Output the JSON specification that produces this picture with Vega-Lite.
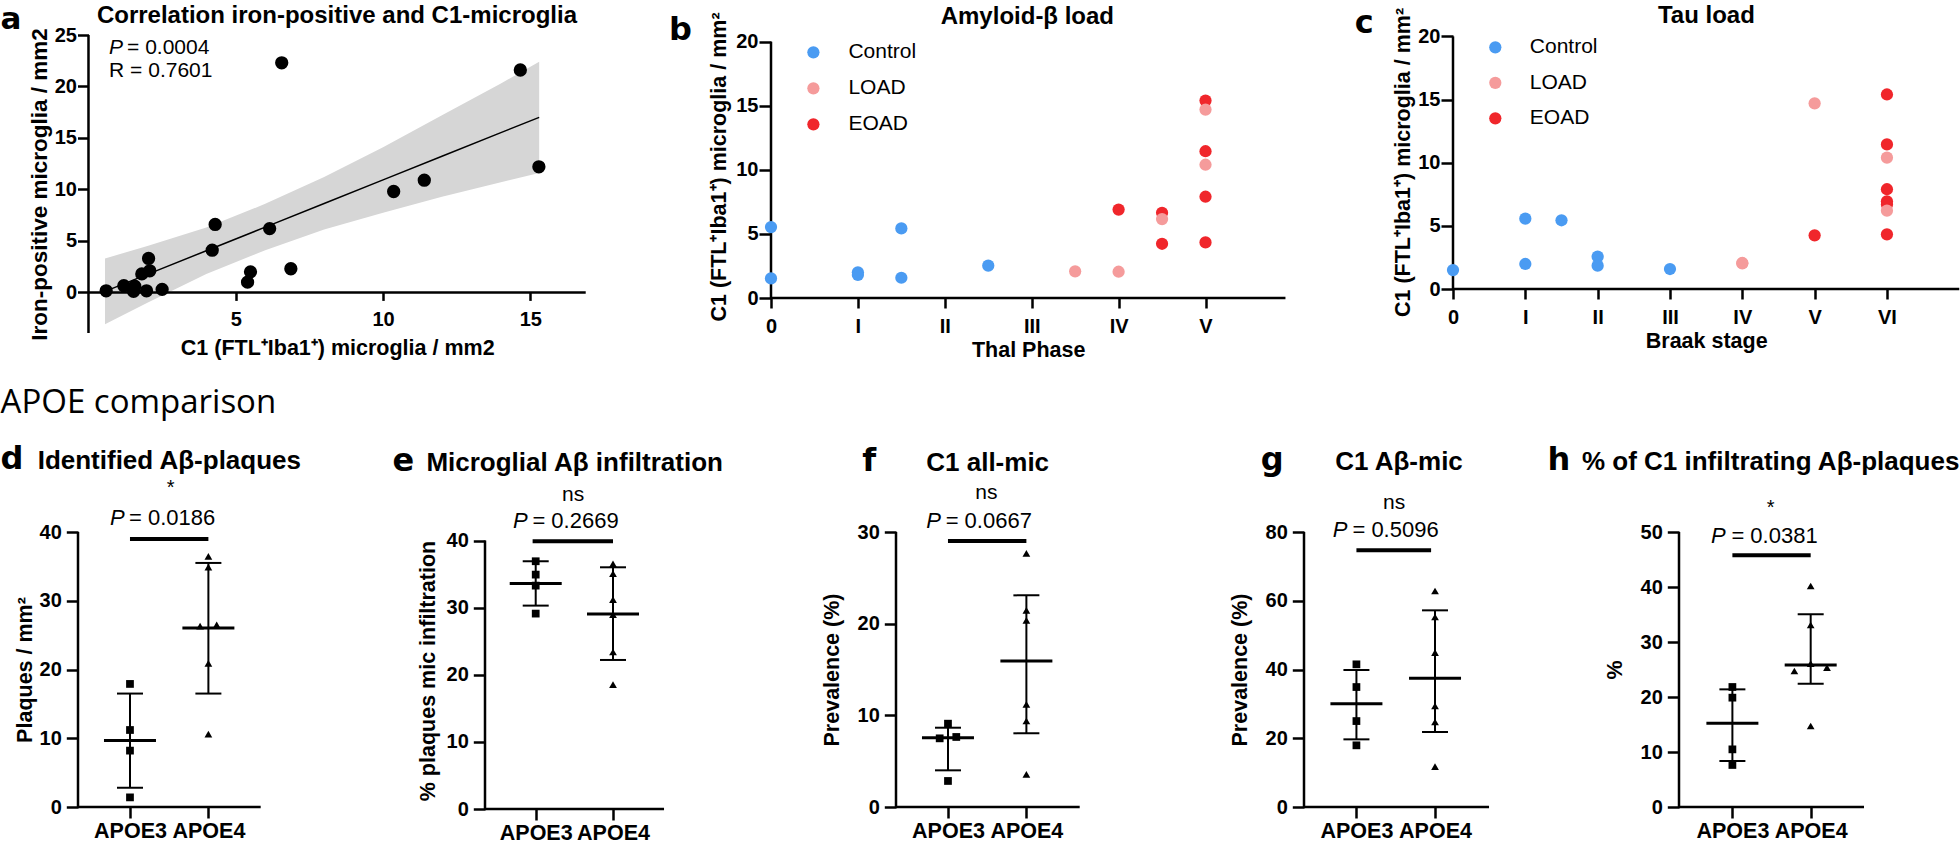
{
  "$schema": "https://vega.github.io/schema/vega-lite/v6.json",
  "background": "white",
  "padding": {"left": 0, "top": 4, "right": 0, "bottom": 0},
  "config": {
    "view": {"stroke": null},
    "font": "Liberation Sans",
    "axis": {"domain": false, "grid": false, "ticks": true, "tickColor": "black", "tickWidth": 2.5, "labelColor": "black", "labelFont": "Liberation Sans", "labelFontWeight": "bold", "labelFontSize": 20, "titleFont": "Liberation Sans", "titleFontWeight": "bold", "titleFontSize": 21.5, "titleColor": "black", "labelOverlap": false, "labelFlush": false},
    "text": {"font": "Liberation Sans", "color": "black"},
    "legend": {"labelFont": "Liberation Sans", "labelColor": "black"}
  },
  "resolve": {"legend": {"color": "independent"}, "scale": {"color": "independent"}},
  "datasets": {
    "one": [{}],
    "bandA": [
      {"x": 0.56, "lo": -3.1, "hi": 3.3, "fit": 0.1},
      {"x": 2, "lo": -1.0, "hi": 4.5, "fit": 1.75},
      {"x": 4, "lo": 1.8, "hi": 6.3, "fit": 4.05},
      {"x": 6, "lo": 4.1, "hi": 8.6, "fit": 6.34},
      {"x": 8, "lo": 6.1, "hi": 11.2, "fit": 8.64},
      {"x": 10, "lo": 7.75, "hi": 14.1, "fit": 10.93},
      {"x": 12, "lo": 9.3, "hi": 17.2, "fit": 13.22},
      {"x": 14, "lo": 10.7, "hi": 20.3, "fit": 15.52},
      {"x": 15.3, "lo": 11.6, "hi": 22.4, "fit": 17.0}
    ],
    "ptsA": [
      {"x": 0.6, "y": 0.16}, {"x": 1.2, "y": 0.65}, {"x": 1.53, "y": 0.1}, {"x": 1.57, "y": 0.6},
      {"x": 1.81, "y": 1.8}, {"x": 1.97, "y": 0.16}, {"x": 2.04, "y": 3.3}, {"x": 2.08, "y": 2.1},
      {"x": 2.5, "y": 0.3}, {"x": 4.2, "y": 4.1}, {"x": 4.3, "y": 6.6}, {"x": 5.4, "y": 1.0},
      {"x": 5.5, "y": 2.0}, {"x": 6.15, "y": 6.2}, {"x": 6.56, "y": 22.3}, {"x": 6.87, "y": 2.3},
      {"x": 10.36, "y": 9.8}, {"x": 11.4, "y": 10.9}, {"x": 14.66, "y": 21.6}, {"x": 15.29, "y": 12.2}
    ],
    "ptsB": [
      {"x": 0, "y": 5.53, "group": "Control"}, {"x": 0, "y": 1.53, "group": "Control"},
      {"x": 1, "y": 2.0, "group": "Control"}, {"x": 1, "y": 1.8, "group": "Control"},
      {"x": 1.5, "y": 5.43, "group": "Control"}, {"x": 1.5, "y": 1.58, "group": "Control"},
      {"x": 2.5, "y": 2.52, "group": "Control"},
      {"x": 4, "y": 6.9, "group": "EOAD"}, {"x": 4.5, "y": 6.65, "group": "EOAD"},
      {"x": 4.5, "y": 4.23, "group": "EOAD"}, {"x": 5, "y": 15.4, "group": "EOAD"},
      {"x": 5, "y": 11.45, "group": "EOAD"}, {"x": 5, "y": 7.9, "group": "EOAD"},
      {"x": 5, "y": 4.34, "group": "EOAD"},
      {"x": 3.5, "y": 2.08, "group": "LOAD"}, {"x": 4, "y": 2.05, "group": "LOAD"},
      {"x": 4.5, "y": 6.16, "group": "LOAD"}, {"x": 5, "y": 14.7, "group": "LOAD"},
      {"x": 5, "y": 10.4, "group": "LOAD"}
    ],
    "ptsC": [
      {"x": 0, "y": 1.5, "group": "Control"}, {"x": 1, "y": 5.57, "group": "Control"},
      {"x": 1, "y": 1.98, "group": "Control"}, {"x": 1.5, "y": 5.44, "group": "Control"},
      {"x": 2, "y": 2.56, "group": "Control"}, {"x": 2, "y": 1.85, "group": "Control"},
      {"x": 3, "y": 1.58, "group": "Control"},
      {"x": 5, "y": 4.25, "group": "EOAD"}, {"x": 6, "y": 15.4, "group": "EOAD"},
      {"x": 6, "y": 11.45, "group": "EOAD"}, {"x": 6, "y": 7.9, "group": "EOAD"},
      {"x": 6, "y": 6.94, "group": "EOAD"}, {"x": 6, "y": 6.7, "group": "EOAD"},
      {"x": 6, "y": 4.33, "group": "EOAD"},
      {"x": 4, "y": 2.06, "group": "LOAD"}, {"x": 4, "y": 2.03, "group": "LOAD"},
      {"x": 5, "y": 14.7, "group": "LOAD"}, {"x": 6, "y": 10.4, "group": "LOAD"},
      {"x": 6, "y": 6.2, "group": "LOAD"}
    ],
    "ptsD": [
      {"g": 1, "v": 17.9, "j": "c"}, {"g": 1, "v": 11.2, "j": "c"}, {"g": 1, "v": 8.2, "j": "c"}, {"g": 1, "v": 1.4, "j": "c"},
      {"g": 2, "v": 36.45, "j": "c"}, {"g": 2, "v": 34.9, "j": "c"}, {"g": 2, "v": 26.3, "j": "l"}, {"g": 2, "v": 26.5, "j": "r"},
      {"g": 2, "v": 20.9, "j": "c"}, {"g": 2, "v": 10.6, "j": "c"}
    ],
    "sumD": [{"g": 1, "c": 9.67, "lo": 2.8, "hi": 16.5}, {"g": 2, "c": 26.05, "lo": 16.5, "hi": 35.5}],
    "ptsE": [
      {"g": 1, "v": 36.92, "j": "c"}, {"g": 1, "v": 34.93, "j": "c"}, {"g": 1, "v": 33.29, "j": "c"}, {"g": 1, "v": 29.12, "j": "c"},
      {"g": 2, "v": 36.52, "j": "c"}, {"g": 2, "v": 35.08, "j": "c"}, {"g": 2, "v": 31.2, "j": "c"}, {"g": 2, "v": 28.97, "j": "c"},
      {"g": 2, "v": 23.4, "j": "c"}, {"g": 2, "v": 18.53, "j": "c"}
    ],
    "sumE": [{"g": 1, "c": 33.59, "lo": 30.31, "hi": 36.92}, {"g": 2, "c": 29.07, "lo": 22.21, "hi": 36.02}],
    "ptsF": [
      {"g": 1, "v": 9.09, "j": "c"}, {"g": 1, "v": 7.49, "j": "l"}, {"g": 1, "v": 7.64, "j": "r"}, {"g": 1, "v": 2.84, "j": "c"},
      {"g": 2, "v": 27.67, "j": "c"}, {"g": 2, "v": 21.45, "j": "c"}, {"g": 2, "v": 20.36, "j": "c"}, {"g": 2, "v": 11.2, "j": "c"},
      {"g": 2, "v": 9.38, "j": "c"}, {"g": 2, "v": 3.56, "j": "c"}
    ],
    "sumF": [{"g": 1, "c": 7.56, "lo": 4.0, "hi": 8.65}, {"g": 2, "c": 15.93, "lo": 8.04, "hi": 23.09}],
    "ptsG": [
      {"g": 1, "v": 41.5, "j": "c"}, {"g": 1, "v": 34.9, "j": "c"}, {"g": 1, "v": 25.0, "j": "c"}, {"g": 1, "v": 17.94, "j": "c"},
      {"g": 2, "v": 62.84, "j": "c"}, {"g": 2, "v": 55.27, "j": "c"}, {"g": 2, "v": 44.9, "j": "c"}, {"g": 2, "v": 29.38, "j": "c"},
      {"g": 2, "v": 24.73, "j": "c"}, {"g": 2, "v": 11.73, "j": "c"}
    ],
    "sumG": [{"g": 1, "c": 30.06, "lo": 19.68, "hi": 39.85}, {"g": 2, "c": 37.43, "lo": 21.82, "hi": 57.21}],
    "ptsH": [
      {"g": 1, "v": 21.82, "j": "c"}, {"g": 1, "v": 19.88, "j": "c"}, {"g": 1, "v": 10.48, "j": "c"}, {"g": 1, "v": 7.64, "j": "c"},
      {"g": 2, "v": 40.18, "j": "c"}, {"g": 2, "v": 33.09, "j": "c"}, {"g": 2, "v": 26.06, "j": "c"}, {"g": 2, "v": 24.73, "j": "l"},
      {"g": 2, "v": 25.33, "j": "r"}, {"g": 2, "v": 14.73, "j": "c"}
    ],
    "sumH": [{"g": 1, "c": 15.21, "lo": 8.36, "hi": 21.39}, {"g": 2, "c": 25.82, "lo": 22.42, "hi": 35.03}]
  },
  "spacing": 26,
  "vconcat": [
    {
      "resolve": {"legend": {"color": "independent"}, "scale": {"color": "independent"}},
      "hconcat": [
        {
          "width": 693, "height": 298,
          "layer": [
            {"data": {"name": "bandA"}, "mark": {"type": "area", "color": "#d6d6d6", "opacity": 1},
             "encoding": {
               "x": {"field": "x", "type": "quantitative", "scale": {"domain": [-0.356, 23.17], "nice": false, "zero": false},
                     "axis": {"values": [5, 10, 15], "offset": -40.6, "tickSize": 8, "labelPadding": 9, "title": "C1 (FTL⁺Iba1⁺) microglia / mm2", "titleX": 259.2, "titlePadding": 8}},
               "y": {"field": "lo", "type": "quantitative", "scale": {"domain": [-3.94, 25], "nice": false, "zero": false},
                     "axis": {"values": [0, 5, 10, 15, 20, 25], "offset": -10.5, "tickSize": 11, "labelPadding": 1, "title": "Iron-positive microglia / mm2", "titlePadding": 3, "titleFontSize": 22.5}},
               "y2": {"field": "hi"}
             }},
            {"data": {"name": "bandA"}, "mark": {"type": "line", "color": "black", "strokeWidth": 1.5},
             "encoding": {"x": {"field": "x", "type": "quantitative"}, "y": {"field": "fit", "type": "quantitative"}}},
            {"data": {"name": "one"}, "mark": {"type": "rule", "color": "black", "strokeWidth": 2.5},
             "encoding": {"x": {"datum": 0}, "x2": {"datum": 16.88}, "y": {"datum": 0}}},
            {"data": {"name": "one"}, "mark": {"type": "rule", "color": "black", "strokeWidth": 2.5},
             "encoding": {"x": {"datum": 0}, "y": {"datum": -3.94}, "y2": {"datum": 25}}},
            {"data": {"name": "ptsA"}, "mark": {"type": "circle", "color": "black", "size": 177, "opacity": 1},
             "encoding": {"x": {"field": "x", "type": "quantitative"}, "y": {"field": "y", "type": "quantitative"}}},
            {"data": {"name": "one"}, "mark": {"type": "text", "text": "P", "fontStyle": "italic", "fontSize": 21, "align": "left", "baseline": "alphabetic"},
             "encoding": {"x": {"datum": 0.70}, "y": {"datum": 23.2}}},
            {"data": {"name": "one"}, "mark": {"type": "text", "text": "= 0.0004", "fontSize": 21, "align": "left", "baseline": "alphabetic"},
             "encoding": {"x": {"datum": 1.31}, "y": {"datum": 23.2}}},
            {"data": {"name": "one"}, "mark": {"type": "text", "text": "R = 0.7601", "fontSize": 21, "align": "left", "baseline": "alphabetic"},
             "encoding": {"x": {"datum": 0.70}, "y": {"datum": 20.95}}},
            {"data": {"name": "one"}, "mark": {"type": "text", "text": "Correlation iron-positive and C1-microglia", "fontSize": 24, "fontWeight": "bold", "align": "center", "baseline": "alphabetic"},
             "encoding": {"x": {"datum": 8.435}, "y": {"datum": 26.16}}},
            {"data": {"name": "one"}, "mark": {"type": "text", "text": "a", "font": "DejaVu Sans", "fontSize": 31, "fontWeight": "bold", "align": "left", "baseline": "alphabetic"},
             "encoding": {"x": {"datum": -2.987}, "y": {"datum": 25.56}}}
          ]
        },
        {
          "width": 682, "height": 263,
          "layer": [
            {"data": {"name": "one"}, "mark": {"type": "rule", "color": "black", "strokeWidth": 2.5},
             "encoding": {"x": {"datum": 0}, "x2": {"datum": 5.92}, "y": {"datum": 0}}},
            {"data": {"name": "one"}, "mark": {"type": "rule", "color": "black", "strokeWidth": 2.5},
             "encoding": {"x": {"datum": 0}, "y": {"datum": 0}, "y2": {"datum": 20}}},
            {"data": {"name": "ptsB"}, "mark": {"type": "circle", "size": 150, "opacity": 1},
             "encoding": {
               "x": {"field": "x", "type": "quantitative", "scale": {"domain": [0, 7.848], "nice": false, "zero": false},
                     "axis": {"values": [0, 1, 2, 3, 4, 5], "labelExpr": "['0','I','II','III','IV','V'][datum.value]", "tickSize": 10, "labelPadding": 8.5, "title": "Thal Phase", "titleX": 257.2, "titlePadding": 3}},
               "y": {"field": "y", "type": "quantitative", "scale": {"domain": [0, 20.52], "nice": false, "zero": false},
                     "axis": {"values": [0, 5, 10, 15, 20], "tickSize": 12, "labelPadding": 1, "title": "C1 (FTL⁺Iba1⁺) microglia / mm²", "titlePadding": 5}},
               "color": {"field": "group", "type": "nominal", "scale": {"domain": ["Control", "LOAD", "EOAD"], "range": ["#4A9BF2", "#F59B9B", "#F0262B"]},
                         "legend": {"orient": "none", "legendX": 31.9, "legendY": 6.8, "title": null, "labelFontSize": 21, "symbolType": "circle", "symbolSize": 150, "symbolStrokeWidth": 0, "symbolOpacity": 1, "rowPadding": 14, "labelOffset": 24.5, "padding": 0}}
             }},
            {"data": {"name": "one"}, "mark": {"type": "text", "text": "Amyloid-β load", "fontSize": 24, "fontWeight": "bold", "align": "center", "baseline": "alphabetic"},
             "encoding": {"x": {"datum": 2.95}, "y": {"datum": 21.39}}},
            {"data": {"name": "one"}, "mark": {"type": "text", "text": "b", "font": "DejaVu Sans", "fontSize": 32, "fontWeight": "bold", "align": "left", "baseline": "alphabetic"},
             "encoding": {"x": {"datum": -1.174}, "y": {"datum": 20.13}}}
          ]
        },
        {
          "width": 507, "height": 254,
          "layer": [
            {"data": {"name": "one"}, "mark": {"type": "rule", "color": "black", "strokeWidth": 2.5},
             "encoding": {"x": {"datum": 0}, "x2": {"datum": 7.0}, "y": {"datum": 0}}},
            {"data": {"name": "one"}, "mark": {"type": "rule", "color": "black", "strokeWidth": 2.5},
             "encoding": {"x": {"datum": 0}, "y": {"datum": 0}, "y2": {"datum": 20}}},
            {"data": {"name": "ptsC"}, "mark": {"type": "circle", "size": 150, "opacity": 1},
             "encoding": {
               "x": {"field": "x", "type": "quantitative", "scale": {"domain": [0, 7.01], "nice": false, "zero": false},
                     "axis": {"values": [0, 1, 2, 3, 4, 5, 6], "labelExpr": "['0','I','II','III','IV','V','VI'][datum.value]", "tickSize": 10, "labelPadding": 8.5, "title": "Braak stage", "titleX": 253.2, "titlePadding": 3}},
               "y": {"field": "y", "type": "quantitative", "scale": {"domain": [0, 20.11], "nice": false, "zero": false},
                     "axis": {"values": [0, 5, 10, 15, 20], "tickSize": 12, "labelPadding": 1, "title": "C1 (FTL⁺Iba1⁺) microglia / mm²", "titlePadding": 3}},
               "color": {"field": "group", "type": "nominal", "scale": {"domain": ["Control", "LOAD", "EOAD"], "range": ["#4A9BF2", "#F59B9B", "#F0262B"]},
                         "legend": {"orient": "none", "legendX": 31.8, "legendY": 1.8, "title": null, "labelFontSize": 21, "symbolType": "circle", "symbolSize": 150, "symbolStrokeWidth": 0, "symbolOpacity": 1, "rowPadding": 13.5, "labelOffset": 24, "padding": 0}}
             }},
            {"data": {"name": "one"}, "mark": {"type": "text", "text": "Tau load", "fontSize": 24, "fontWeight": "bold", "align": "center", "baseline": "alphabetic"},
             "encoding": {"x": {"datum": 3.503}, "y": {"datum": 21.05}}},
            {"data": {"name": "one"}, "mark": {"type": "text", "text": "c", "font": "DejaVu Sans", "fontSize": 32, "fontWeight": "bold", "align": "left", "baseline": "alphabetic"},
             "encoding": {"x": {"datum": -1.357}, "y": {"datum": 20.26}}}
          ]
        }
      ],
      "spacing": 0, "bounds": "flush", "align": "none"
    },
    {
      "hconcat": [
        {
          "width": 407, "height": 275,
          "layer": [
            {"data": {"name": "one"}, "mark": {"type": "rule", "color": "black", "strokeWidth": 2.5}, "encoding": {"x": {"datum": 0.337}, "x2": {"datum": 2.667}, "y": {"datum": 0}}},
            {"data": {"name": "one"}, "mark": {"type": "rule", "color": "black", "strokeWidth": 2.5}, "encoding": {"x": {"datum": 0.337}, "y": {"datum": 0}, "y2": {"datum": 40}}},
            {"data": {"name": "ptsD"}, "transform": [{"filter": "datum.j == 'c'"}], "mark": {"type": "point", "filled": true, "color": "black", "opacity": 1, "size": 60},
             "encoding": {
               "x": {"field": "g", "type": "quantitative", "scale": {"domain": [0.337, 5.528], "nice": false, "zero": false},
                     "axis": {"values": [1, 2], "labelExpr": "datum.value == 1 ? 'APOE3' : 'APOE4'", "tickSize": 11, "labelPadding": 2, "labelFontSize": 21.5, "title": null}},
               "y": {"field": "v", "type": "quantitative", "scale": {"domain": [0, 40], "nice": false, "zero": false},
                     "axis": {"values": [0, 10, 20, 30, 40], "tickSize": 11.7, "labelPadding": 5, "title": "Plaques / mm²", "titlePadding": 3}},
               "shape": {"field": "g", "type": "nominal", "scale": {"domain": [1, 2], "range": ["square", "triangle-up"]}, "legend": null}
             }},
            {"data": {"name": "ptsD"}, "transform": [{"filter": "datum.j == 'l'"}], "mark": {"type": "point", "filled": true, "color": "black", "opacity": 1, "size": 60, "xOffset": -8.3},
             "encoding": {"x": {"field": "g", "type": "quantitative"}, "y": {"field": "v", "type": "quantitative"}, "shape": {"field": "g", "type": "nominal", "legend": null}}},
            {"data": {"name": "ptsD"}, "transform": [{"filter": "datum.j == 'r'"}], "mark": {"type": "point", "filled": true, "color": "black", "opacity": 1, "size": 60, "xOffset": 8.3},
             "encoding": {"x": {"field": "g", "type": "quantitative"}, "y": {"field": "v", "type": "quantitative"}, "shape": {"field": "g", "type": "nominal", "legend": null}}},
            {"data": {"name": "sumD"}, "mark": {"type": "rule", "color": "black", "strokeWidth": 2}, "encoding": {"x": {"field": "g", "type": "quantitative"}, "y": {"field": "lo", "type": "quantitative"}, "y2": {"field": "hi"}}},
            {"data": {"name": "sumD"}, "mark": {"type": "tick", "orient": "horizontal", "size": 52, "thickness": 3, "color": "black", "opacity": 1}, "encoding": {"x": {"field": "g", "type": "quantitative"}, "y": {"field": "c", "type": "quantitative"}}},
            {"data": {"name": "sumD"}, "mark": {"type": "tick", "orient": "horizontal", "size": 26, "thickness": 2, "color": "black", "opacity": 1}, "encoding": {"x": {"field": "g", "type": "quantitative"}, "y": {"field": "lo", "type": "quantitative"}}},
            {"data": {"name": "sumD"}, "mark": {"type": "tick", "orient": "horizontal", "size": 26, "thickness": 2, "color": "black", "opacity": 1}, "encoding": {"x": {"field": "g", "type": "quantitative"}, "y": {"field": "hi", "type": "quantitative"}}},
            {"data": {"name": "one"}, "mark": {"type": "rule", "color": "black", "strokeWidth": 4}, "encoding": {"x": {"datum": 1}, "x2": {"datum": 2}, "y": {"datum": 39.0}}},
            {"data": {"name": "one"}, "mark": {"type": "text", "text": "*", "fontSize": 20, "align": "center", "baseline": "alphabetic"}, "encoding": {"x": {"datum": 1.519}, "y": {"datum": 45.6}}},
            {"data": {"name": "one"}, "mark": {"type": "text", "text": "P", "fontStyle": "italic", "fontSize": 22, "align": "right", "baseline": "alphabetic"}, "encoding": {"x": {"datum": 0.932}, "y": {"datum": 40.97}}},
            {"data": {"name": "one"}, "mark": {"type": "text", "text": "= 0.0186", "fontSize": 22, "align": "left", "baseline": "alphabetic"}, "encoding": {"x": {"datum": 0.987}, "y": {"datum": 40.97}}},
            {"data": {"name": "one"}, "mark": {"type": "text", "text": "Identified Aβ-plaques", "fontSize": 26, "fontWeight": "bold", "align": "center", "baseline": "alphabetic"}, "encoding": {"x": {"datum": 1.502}, "y": {"datum": 49.2}}},
            {"data": {"name": "one"}, "mark": {"type": "text", "text": "d", "font": "DejaVu Sans", "fontSize": 32, "fontWeight": "bold", "align": "left", "baseline": "alphabetic"}, "encoding": {"x": {"datum": -0.651}, "y": {"datum": 49.2}}},
            {"data": {"name": "one"}, "mark": {"type": "text", "text": "APOE comparison", "font": "Open Sans", "fontSize": 33, "align": "left", "baseline": "alphabetic"}, "encoding": {"x": {"datum": -0.651}, "y": {"datum": 57.25}}}
          ]
        },
        {
          "width": 411, "height": 277,
          "layer": [
            {"data": {"name": "one"}, "mark": {"type": "rule", "color": "black", "strokeWidth": 2.5}, "encoding": {"x": {"datum": 0.344}, "x2": {"datum": 2.66}, "y": {"datum": 0}}},
            {"data": {"name": "one"}, "mark": {"type": "rule", "color": "black", "strokeWidth": 2.5}, "encoding": {"x": {"datum": 0.344}, "y": {"datum": 0}, "y2": {"datum": 40}}},
            {"data": {"name": "ptsE"}, "mark": {"type": "point", "filled": true, "color": "black", "opacity": 1, "size": 60},
             "encoding": {
               "x": {"field": "g", "type": "quantitative", "scale": {"domain": [0.344, 5.661], "nice": false, "zero": false},
                     "axis": {"values": [1, 2], "labelExpr": "datum.value == 1 ? 'APOE3' : 'APOE4'", "tickSize": 11, "labelPadding": 2, "labelFontSize": 21.5, "title": null}},
               "y": {"field": "v", "type": "quantitative", "scale": {"domain": [0, 41.28], "nice": false, "zero": false},
                     "axis": {"values": [0, 10, 20, 30, 40], "tickSize": 11.7, "labelPadding": 5, "title": "% plaques mic infiltration", "titlePadding": 6.5}},
               "shape": {"field": "g", "type": "nominal", "scale": {"domain": [1, 2], "range": ["square", "triangle-up"]}, "legend": null}
             }},
            {"data": {"name": "sumE"}, "mark": {"type": "rule", "color": "black", "strokeWidth": 2}, "encoding": {"x": {"field": "g", "type": "quantitative"}, "y": {"field": "lo", "type": "quantitative"}, "y2": {"field": "hi"}}},
            {"data": {"name": "sumE"}, "mark": {"type": "tick", "orient": "horizontal", "size": 52, "thickness": 3, "color": "black", "opacity": 1}, "encoding": {"x": {"field": "g", "type": "quantitative"}, "y": {"field": "c", "type": "quantitative"}}},
            {"data": {"name": "sumE"}, "mark": {"type": "tick", "orient": "horizontal", "size": 26, "thickness": 2, "color": "black", "opacity": 1}, "encoding": {"x": {"field": "g", "type": "quantitative"}, "y": {"field": "lo", "type": "quantitative"}}},
            {"data": {"name": "sumE"}, "mark": {"type": "tick", "orient": "horizontal", "size": 26, "thickness": 2, "color": "black", "opacity": 1}, "encoding": {"x": {"field": "g", "type": "quantitative"}, "y": {"field": "hi", "type": "quantitative"}}},
            {"data": {"name": "one"}, "mark": {"type": "rule", "color": "black", "strokeWidth": 4}, "encoding": {"x": {"datum": 0.96}, "x2": {"datum": 2}, "y": {"datum": 39.9}}},
            {"data": {"name": "one"}, "mark": {"type": "text", "text": "ns", "fontSize": 21, "align": "center", "baseline": "alphabetic"}, "encoding": {"x": {"datum": 1.483}, "y": {"datum": 45.96}}},
            {"data": {"name": "one"}, "mark": {"type": "text", "text": "P", "fontStyle": "italic", "fontSize": 22, "align": "right", "baseline": "alphabetic"}, "encoding": {"x": {"datum": 0.897}, "y": {"datum": 41.9}}},
            {"data": {"name": "one"}, "mark": {"type": "text", "text": "= 0.2669", "fontSize": 22, "align": "left", "baseline": "alphabetic"}, "encoding": {"x": {"datum": 0.957}, "y": {"datum": 41.9}}},
            {"data": {"name": "one"}, "mark": {"type": "text", "text": "Microglial Aβ infiltration", "fontSize": 26, "fontWeight": "bold", "align": "center", "baseline": "alphabetic"}, "encoding": {"x": {"datum": 1.504}, "y": {"datum": 50.4}}},
            {"data": {"name": "one"}, "mark": {"type": "text", "text": "e", "font": "DejaVu Sans", "fontSize": 32, "fontWeight": "bold", "align": "left", "baseline": "alphabetic"}, "encoding": {"x": {"datum": -0.853}, "y": {"datum": 50.4}}}
          ]
        },
        {
          "width": 408, "height": 275,
          "layer": [
            {"data": {"name": "one"}, "mark": {"type": "rule", "color": "black", "strokeWidth": 2.5}, "encoding": {"x": {"datum": 0.337}, "x2": {"datum": 2.68}, "y": {"datum": 0}}},
            {"data": {"name": "one"}, "mark": {"type": "rule", "color": "black", "strokeWidth": 2.5}, "encoding": {"x": {"datum": 0.337}, "y": {"datum": 0}, "y2": {"datum": 30}}},
            {"data": {"name": "ptsF"}, "transform": [{"filter": "datum.j == 'c'"}], "mark": {"type": "point", "filled": true, "color": "black", "opacity": 1, "size": 60},
             "encoding": {
               "x": {"field": "g", "type": "quantitative", "scale": {"domain": [0.337, 5.541], "nice": false, "zero": false},
                     "axis": {"values": [1, 2], "labelExpr": "datum.value == 1 ? 'APOE3' : 'APOE4'", "tickSize": 11, "labelPadding": 2, "labelFontSize": 21.5, "title": null}},
               "y": {"field": "v", "type": "quantitative", "scale": {"domain": [0, 30], "nice": false, "zero": false},
                     "axis": {"values": [0, 10, 20, 30], "tickSize": 11.7, "labelPadding": 5, "title": "Prevalence (%)", "titlePadding": 14}},
               "shape": {"field": "g", "type": "nominal", "scale": {"domain": [1, 2], "range": ["square", "triangle-up"]}, "legend": null}
             }},
            {"data": {"name": "ptsF"}, "transform": [{"filter": "datum.j == 'l'"}], "mark": {"type": "point", "filled": true, "color": "black", "opacity": 1, "size": 60, "xOffset": -8.3},
             "encoding": {"x": {"field": "g", "type": "quantitative"}, "y": {"field": "v", "type": "quantitative"}, "shape": {"field": "g", "type": "nominal", "legend": null}}},
            {"data": {"name": "ptsF"}, "transform": [{"filter": "datum.j == 'r'"}], "mark": {"type": "point", "filled": true, "color": "black", "opacity": 1, "size": 60, "xOffset": 8.3},
             "encoding": {"x": {"field": "g", "type": "quantitative"}, "y": {"field": "v", "type": "quantitative"}, "shape": {"field": "g", "type": "nominal", "legend": null}}},
            {"data": {"name": "sumF"}, "mark": {"type": "rule", "color": "black", "strokeWidth": 2}, "encoding": {"x": {"field": "g", "type": "quantitative"}, "y": {"field": "lo", "type": "quantitative"}, "y2": {"field": "hi"}}},
            {"data": {"name": "sumF"}, "mark": {"type": "tick", "orient": "horizontal", "size": 52, "thickness": 3, "color": "black", "opacity": 1}, "encoding": {"x": {"field": "g", "type": "quantitative"}, "y": {"field": "c", "type": "quantitative"}}},
            {"data": {"name": "sumF"}, "mark": {"type": "tick", "orient": "horizontal", "size": 26, "thickness": 2, "color": "black", "opacity": 1}, "encoding": {"x": {"field": "g", "type": "quantitative"}, "y": {"field": "lo", "type": "quantitative"}}},
            {"data": {"name": "sumF"}, "mark": {"type": "tick", "orient": "horizontal", "size": 26, "thickness": 2, "color": "black", "opacity": 1}, "encoding": {"x": {"field": "g", "type": "quantitative"}, "y": {"field": "hi", "type": "quantitative"}}},
            {"data": {"name": "one"}, "mark": {"type": "rule", "color": "black", "strokeWidth": 4}, "encoding": {"x": {"datum": 1}, "x2": {"datum": 2}, "y": {"datum": 29.02}}},
            {"data": {"name": "one"}, "mark": {"type": "text", "text": "ns", "fontSize": 21, "align": "center", "baseline": "alphabetic"}, "encoding": {"x": {"datum": 1.489}, "y": {"datum": 33.56}}},
            {"data": {"name": "one"}, "mark": {"type": "text", "text": "P", "fontStyle": "italic", "fontSize": 22, "align": "right", "baseline": "alphabetic"}, "encoding": {"x": {"datum": 0.91}, "y": {"datum": 30.47}}},
            {"data": {"name": "one"}, "mark": {"type": "text", "text": "= 0.0667", "fontSize": 22, "align": "left", "baseline": "alphabetic"}, "encoding": {"x": {"datum": 0.97}, "y": {"datum": 30.47}}},
            {"data": {"name": "one"}, "mark": {"type": "text", "text": "C1 all-mic", "fontSize": 26, "fontWeight": "bold", "align": "center", "baseline": "alphabetic"}, "encoding": {"x": {"datum": 1.506}, "y": {"datum": 36.65}}},
            {"data": {"name": "one"}, "mark": {"type": "text", "text": "f", "font": "DejaVu Sans", "fontSize": 32, "fontWeight": "bold", "align": "left", "baseline": "alphabetic"}, "encoding": {"x": {"datum": -0.094}, "y": {"datum": 36.65}}}
          ]
        },
        {
          "width": 375, "height": 275,
          "layer": [
            {"data": {"name": "one"}, "mark": {"type": "rule", "color": "black", "strokeWidth": 2.5}, "encoding": {"x": {"datum": 0.333}, "x2": {"datum": 2.687}, "y": {"datum": 0}}},
            {"data": {"name": "one"}, "mark": {"type": "rule", "color": "black", "strokeWidth": 2.5}, "encoding": {"x": {"datum": 0.333}, "y": {"datum": 0}, "y2": {"datum": 80}}},
            {"data": {"name": "ptsG"}, "mark": {"type": "point", "filled": true, "color": "black", "opacity": 1, "size": 60},
             "encoding": {
               "x": {"field": "g", "type": "quantitative", "scale": {"domain": [0.333, 5.104], "nice": false, "zero": false},
                     "axis": {"values": [1, 2], "labelExpr": "datum.value == 1 ? 'APOE3' : 'APOE4'", "tickSize": 11, "labelPadding": 2, "labelFontSize": 21.5, "title": null}},
               "y": {"field": "v", "type": "quantitative", "scale": {"domain": [0, 80], "nice": false, "zero": false},
                     "axis": {"values": [0, 20, 40, 60, 80], "tickSize": 11.7, "labelPadding": 5, "title": "Prevalence (%)", "titlePadding": 13.5}},
               "shape": {"field": "g", "type": "nominal", "scale": {"domain": [1, 2], "range": ["square", "triangle-up"]}, "legend": null}
             }},
            {"data": {"name": "sumG"}, "mark": {"type": "rule", "color": "black", "strokeWidth": 2}, "encoding": {"x": {"field": "g", "type": "quantitative"}, "y": {"field": "lo", "type": "quantitative"}, "y2": {"field": "hi"}}},
            {"data": {"name": "sumG"}, "mark": {"type": "tick", "orient": "horizontal", "size": 52, "thickness": 3, "color": "black", "opacity": 1}, "encoding": {"x": {"field": "g", "type": "quantitative"}, "y": {"field": "c", "type": "quantitative"}}},
            {"data": {"name": "sumG"}, "mark": {"type": "tick", "orient": "horizontal", "size": 26, "thickness": 2, "color": "black", "opacity": 1}, "encoding": {"x": {"field": "g", "type": "quantitative"}, "y": {"field": "lo", "type": "quantitative"}}},
            {"data": {"name": "sumG"}, "mark": {"type": "tick", "orient": "horizontal", "size": 26, "thickness": 2, "color": "black", "opacity": 1}, "encoding": {"x": {"field": "g", "type": "quantitative"}, "y": {"field": "hi", "type": "quantitative"}}},
            {"data": {"name": "one"}, "mark": {"type": "rule", "color": "black", "strokeWidth": 4}, "encoding": {"x": {"datum": 1}, "x2": {"datum": 1.95}, "y": {"datum": 74.67}}},
            {"data": {"name": "one"}, "mark": {"type": "text", "text": "ns", "fontSize": 21, "align": "center", "baseline": "alphabetic"}, "encoding": {"x": {"datum": 1.479}, "y": {"datum": 86.6}}},
            {"data": {"name": "one"}, "mark": {"type": "text", "text": "P", "fontStyle": "italic", "fontSize": 22, "align": "right", "baseline": "alphabetic"}, "encoding": {"x": {"datum": 0.886}, "y": {"datum": 78.55}}},
            {"data": {"name": "one"}, "mark": {"type": "text", "text": "= 0.5096", "fontSize": 22, "align": "left", "baseline": "alphabetic"}, "encoding": {"x": {"datum": 0.949}, "y": {"datum": 78.55}}},
            {"data": {"name": "one"}, "mark": {"type": "text", "text": "C1 Aβ-mic", "fontSize": 26, "fontWeight": "bold", "align": "center", "baseline": "alphabetic"}, "encoding": {"x": {"datum": 1.542}, "y": {"datum": 97.96}}},
            {"data": {"name": "one"}, "mark": {"type": "text", "text": "g", "font": "DejaVu Sans", "fontSize": 32, "fontWeight": "bold", "align": "left", "baseline": "alphabetic"}, "encoding": {"x": {"datum": -0.216}, "y": {"datum": 97.96}}}
          ]
        },
        {
          "width": 185, "height": 275,
          "layer": [
            {"data": {"name": "one"}, "mark": {"type": "rule", "color": "black", "strokeWidth": 2.5}, "encoding": {"x": {"datum": 0.318}, "x2": {"datum": 2.681}, "y": {"datum": 0}}},
            {"data": {"name": "one"}, "mark": {"type": "rule", "color": "black", "strokeWidth": 2.5}, "encoding": {"x": {"datum": 0.318}, "y": {"datum": 0}, "y2": {"datum": 50}}},
            {"data": {"name": "ptsH"}, "transform": [{"filter": "datum.j == 'c'"}], "mark": {"type": "point", "filled": true, "color": "black", "opacity": 1, "size": 60},
             "encoding": {
               "x": {"field": "g", "type": "quantitative", "scale": {"domain": [0.318, 2.681], "nice": false, "zero": false},
                     "axis": {"values": [1, 2], "labelExpr": "datum.value == 1 ? 'APOE3' : 'APOE4'", "tickSize": 11, "labelPadding": 2, "labelFontSize": 21.5, "title": null}},
               "y": {"field": "v", "type": "quantitative", "scale": {"domain": [0, 50], "nice": false, "zero": false},
                     "axis": {"values": [0, 10, 20, 30, 40, 50], "tickSize": 11.7, "labelPadding": 5, "title": "%", "titlePadding": 13.7}},
               "shape": {"field": "g", "type": "nominal", "scale": {"domain": [1, 2], "range": ["square", "triangle-up"]}, "legend": null}
             }},
            {"data": {"name": "ptsH"}, "transform": [{"filter": "datum.j == 'l'"}], "mark": {"type": "point", "filled": true, "color": "black", "opacity": 1, "size": 60, "xOffset": -16.3},
             "encoding": {"x": {"field": "g", "type": "quantitative"}, "y": {"field": "v", "type": "quantitative"}, "shape": {"field": "g", "type": "nominal", "legend": null}}},
            {"data": {"name": "ptsH"}, "transform": [{"filter": "datum.j == 'r'"}], "mark": {"type": "point", "filled": true, "color": "black", "opacity": 1, "size": 60, "xOffset": 16.3},
             "encoding": {"x": {"field": "g", "type": "quantitative"}, "y": {"field": "v", "type": "quantitative"}, "shape": {"field": "g", "type": "nominal", "legend": null}}},
            {"data": {"name": "sumH"}, "mark": {"type": "rule", "color": "black", "strokeWidth": 2}, "encoding": {"x": {"field": "g", "type": "quantitative"}, "y": {"field": "lo", "type": "quantitative"}, "y2": {"field": "hi"}}},
            {"data": {"name": "sumH"}, "mark": {"type": "tick", "orient": "horizontal", "size": 52, "thickness": 3, "color": "black", "opacity": 1}, "encoding": {"x": {"field": "g", "type": "quantitative"}, "y": {"field": "c", "type": "quantitative"}}},
            {"data": {"name": "sumH"}, "mark": {"type": "tick", "orient": "horizontal", "size": 26, "thickness": 2, "color": "black", "opacity": 1}, "encoding": {"x": {"field": "g", "type": "quantitative"}, "y": {"field": "lo", "type": "quantitative"}}},
            {"data": {"name": "sumH"}, "mark": {"type": "tick", "orient": "horizontal", "size": 26, "thickness": 2, "color": "black", "opacity": 1}, "encoding": {"x": {"field": "g", "type": "quantitative"}, "y": {"field": "hi", "type": "quantitative"}}},
            {"data": {"name": "one"}, "mark": {"type": "rule", "color": "black", "strokeWidth": 4}, "encoding": {"x": {"datum": 1}, "x2": {"datum": 2}, "y": {"datum": 45.76}}},
            {"data": {"name": "one"}, "mark": {"type": "text", "text": "*", "fontSize": 20, "align": "center", "baseline": "alphabetic"}, "encoding": {"x": {"datum": 1.489}, "y": {"datum": 53.3}}},
            {"data": {"name": "one"}, "mark": {"type": "text", "text": "P", "fontStyle": "italic", "fontSize": 22, "align": "right", "baseline": "alphabetic"}, "encoding": {"x": {"datum": 0.915}, "y": {"datum": 48.06}}},
            {"data": {"name": "one"}, "mark": {"type": "text", "text": "= 0.0381", "fontSize": 22, "align": "left", "baseline": "alphabetic"}, "encoding": {"x": {"datum": 0.987}, "y": {"datum": 48.06}}},
            {"data": {"name": "one"}, "mark": {"type": "text", "text": "% of C1 infiltrating Aβ-plaques", "fontSize": 26, "fontWeight": "bold", "align": "center", "baseline": "alphabetic"}, "encoding": {"x": {"datum": 1.489}, "y": {"datum": 61.2}}},
            {"data": {"name": "one"}, "mark": {"type": "text", "text": "h", "font": "DejaVu Sans", "fontSize": 32, "fontWeight": "bold", "align": "left", "baseline": "alphabetic"}, "encoding": {"x": {"datum": -1.362}, "y": {"datum": 61.2}}}
          ]
        }
      ],
      "spacing": 0, "bounds": "flush", "align": "none"
    }
  ]
}
